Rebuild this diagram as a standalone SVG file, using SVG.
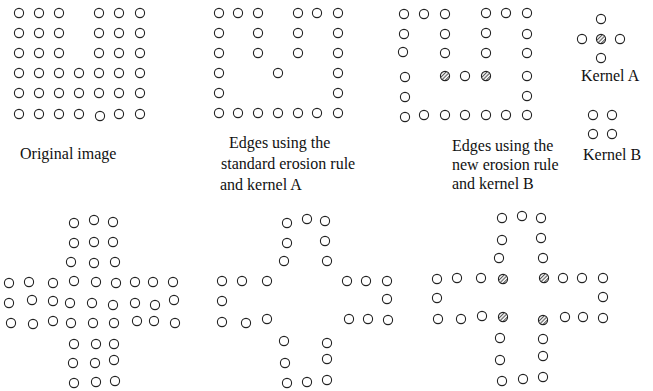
<svg xmlns="http://www.w3.org/2000/svg" xmlns:xlink="http://www.w3.org/1999/xlink" width="653" height="391" viewBox="0 0 653 391">
<style>
.c{fill:#fff;stroke:#222;stroke-width:1.1}
.h{fill:url(#hatch);stroke:#222;stroke-width:1.1}
.t{font-family:"Liberation Serif","Times New Roman",serif;font-size:16px;fill:#111}
</style>
<defs>
<pattern id="hatch" patternUnits="userSpaceOnUse" width="2.6" height="2.6" patternTransform="rotate(-45)">
<rect width="2.6" height="2.6" fill="#fff"/>
<line x1="0" y1="0.6" x2="2.6" y2="0.6" stroke="#333" stroke-width="0.9"/>
</pattern>
<circle id="c" r="4.6" class="c"/>
<circle id="hc" r="4.6" class="h"/>
</defs>
<rect width="653" height="391" fill="#fff"/>

<g id="original">
<use href="#c" x="19" y="13"/><use href="#c" x="39" y="13"/><use href="#c" x="59" y="13"/><use href="#c" x="99" y="13"/><use href="#c" x="119" y="13"/><use href="#c" x="140" y="13"/>
<use href="#c" x="19" y="33"/><use href="#c" x="39" y="33"/><use href="#c" x="59" y="33"/><use href="#c" x="99" y="33"/><use href="#c" x="119" y="33"/><use href="#c" x="140" y="33"/>
<use href="#c" x="19" y="53"/><use href="#c" x="39" y="53"/><use href="#c" x="59" y="53"/><use href="#c" x="99" y="53"/><use href="#c" x="119" y="53"/><use href="#c" x="140" y="53"/>
<use href="#c" x="19" y="73"/><use href="#c" x="39" y="73"/><use href="#c" x="59" y="73"/><use href="#c" x="79" y="73"/><use href="#c" x="99" y="73"/><use href="#c" x="119" y="73"/><use href="#c" x="140" y="73"/>
<use href="#c" x="19" y="93"/><use href="#c" x="39" y="93"/><use href="#c" x="59" y="93"/><use href="#c" x="79" y="93"/><use href="#c" x="99" y="93"/><use href="#c" x="119" y="93"/><use href="#c" x="140" y="93"/>
<use href="#c" x="19" y="114"/><use href="#c" x="39" y="114"/><use href="#c" x="59" y="114"/><use href="#c" x="79" y="114"/><use href="#c" x="100" y="116"/><use href="#c" x="119" y="114"/><use href="#c" x="140" y="114"/>
<text class="t" x="20" y="159">Original image</text>
</g>

<g id="standard-edges">
<use href="#c" x="219" y="13"/><use href="#c" x="238" y="13"/><use href="#c" x="258" y="13"/><use href="#c" x="298" y="13"/><use href="#c" x="317" y="13"/><use href="#c" x="338" y="13"/>
<use href="#c" x="219" y="33"/><use href="#c" x="258" y="33"/><use href="#c" x="298" y="33"/><use href="#c" x="338" y="33"/>
<use href="#c" x="219" y="53"/><use href="#c" x="258" y="53"/><use href="#c" x="298" y="53"/><use href="#c" x="338" y="53"/>
<use href="#c" x="219" y="73"/><use href="#c" x="278" y="73"/><use href="#c" x="338" y="73"/>
<use href="#c" x="219" y="93"/><use href="#c" x="338" y="93"/>
<use href="#c" x="219" y="113"/><use href="#c" x="238" y="113"/><use href="#c" x="258" y="113"/><use href="#c" x="278" y="113"/><use href="#c" x="298" y="113"/><use href="#c" x="317" y="113"/><use href="#c" x="338" y="113"/>
<text class="t" x="229" y="148">Edges using the</text>
<text class="t" x="221" y="169">standard erosion rule</text>
<text class="t" x="220" y="190">and kernel A</text>
</g>

<g id="new-edges">
<use href="#c" x="404" y="14"/><use href="#c" x="424" y="14"/><use href="#c" x="445" y="14"/><use href="#c" x="486" y="13"/><use href="#c" x="506" y="13"/><use href="#c" x="527" y="13"/>
<use href="#c" x="404" y="34"/><use href="#c" x="445" y="34"/><use href="#c" x="486" y="33"/><use href="#c" x="527" y="34"/>
<use href="#c" x="403" y="52"/><use href="#c" x="445" y="53"/><use href="#c" x="486" y="53"/><use href="#c" x="527" y="53"/>
<use href="#c" x="405" y="77"/><use href="#hc" x="445" y="76"/><use href="#c" x="465" y="76"/><use href="#hc" x="486" y="76"/><use href="#c" x="527" y="76"/>
<use href="#c" x="405" y="97"/><use href="#c" x="527" y="96"/>
<use href="#c" x="405" y="117"/><use href="#c" x="424" y="115"/><use href="#c" x="445" y="115"/><use href="#c" x="465" y="115"/><use href="#c" x="486" y="115"/><use href="#c" x="506" y="115"/><use href="#c" x="527" y="115"/>
<text class="t" x="452" y="151">Edges using the</text>
<text class="t" x="452" y="170">new erosion rule</text>
<text class="t" x="452" y="189">and kernel B</text>
</g>

<g id="kernel-a">
<use href="#c" x="601" y="19"/>
<use href="#c" x="582" y="39"/><use href="#hc" x="601" y="39"/><use href="#c" x="620" y="39"/>
<use href="#c" x="601" y="58"/>
<text class="t" x="581" y="81">Kernel A</text>
</g>

<g id="kernel-b">
<use href="#c" x="593" y="115"/><use href="#c" x="612" y="115"/>
<use href="#c" x="593" y="134"/><use href="#c" x="612" y="134"/>
<text class="t" x="583" y="160">Kernel B</text>
</g>

<g id="cross-original">
<use href="#c" x="74" y="223"/><use href="#c" x="94" y="220"/><use href="#c" x="113" y="222"/>
<use href="#c" x="74" y="243"/><use href="#c" x="94" y="242"/><use href="#c" x="113" y="242"/>
<use href="#c" x="71" y="262"/><use href="#c" x="94" y="263"/><use href="#c" x="115" y="262"/>
<use href="#c" x="9" y="283"/><use href="#c" x="29" y="282"/><use href="#c" x="53" y="283"/><use href="#c" x="74" y="281"/><use href="#c" x="96" y="282"/><use href="#c" x="116" y="283"/><use href="#c" x="135" y="282"/><use href="#c" x="153" y="282"/><use href="#c" x="173" y="282"/>
<use href="#c" x="9" y="303"/><use href="#c" x="32" y="300"/><use href="#c" x="53" y="301"/><use href="#c" x="70" y="303"/><use href="#c" x="92" y="303"/><use href="#c" x="113" y="305"/><use href="#c" x="135" y="303"/><use href="#c" x="155" y="305"/><use href="#c" x="174" y="300"/>
<use href="#c" x="11" y="323"/><use href="#c" x="33" y="324"/><use href="#c" x="53" y="321"/><use href="#c" x="71" y="323"/><use href="#c" x="93" y="323"/><use href="#c" x="114" y="323"/><use href="#c" x="137" y="321"/><use href="#c" x="154" y="321"/><use href="#c" x="175" y="323"/>
<use href="#c" x="74" y="344"/><use href="#c" x="96" y="344"/><use href="#c" x="114" y="344"/>
<use href="#c" x="73" y="363"/><use href="#c" x="95" y="363"/><use href="#c" x="114" y="360"/>
<use href="#c" x="74" y="383"/><use href="#c" x="96" y="382"/><use href="#c" x="115" y="381"/>
</g>

<g id="cross-standard">
<use href="#c" x="287" y="223"/><use href="#c" x="307" y="219"/><use href="#c" x="325" y="221"/>
<use href="#c" x="287" y="243"/><use href="#c" x="325" y="241"/>
<use href="#c" x="284" y="261"/><use href="#c" x="327" y="261"/>
<use href="#c" x="222" y="281"/><use href="#c" x="242" y="281"/><use href="#c" x="267" y="281"/><use href="#c" x="347" y="281"/><use href="#c" x="366" y="281"/><use href="#c" x="387" y="281"/>
<use href="#c" x="222" y="301"/><use href="#c" x="387" y="299"/>
<use href="#c" x="222" y="322"/><use href="#c" x="246" y="323"/><use href="#c" x="267" y="319"/><use href="#c" x="349" y="319"/><use href="#c" x="368" y="319"/><use href="#c" x="388" y="320"/>
<use href="#c" x="284" y="341"/><use href="#c" x="327" y="343"/>
<use href="#c" x="285" y="363"/><use href="#c" x="327" y="359"/>
<use href="#c" x="287" y="383"/><use href="#c" x="307" y="382"/><use href="#c" x="327" y="380"/>
</g>

<g id="cross-new">
<use href="#c" x="502" y="218"/><use href="#c" x="522" y="216"/><use href="#c" x="541" y="218"/>
<use href="#c" x="502" y="240"/><use href="#c" x="541" y="238"/>
<use href="#c" x="499" y="258"/><use href="#c" x="543" y="258"/>
<use href="#c" x="437" y="279"/><use href="#c" x="457" y="278"/><use href="#c" x="481" y="278"/><use href="#hc" x="503" y="279"/><use href="#hc" x="544" y="278"/><use href="#c" x="563" y="278"/><use href="#c" x="582" y="278"/><use href="#c" x="603" y="278"/>
<use href="#c" x="437" y="298"/><use href="#c" x="603" y="297"/>
<use href="#c" x="438" y="319"/><use href="#c" x="461" y="319"/><use href="#c" x="482" y="316"/><use href="#hc" x="503" y="317"/><use href="#hc" x="543" y="320"/><use href="#c" x="565" y="317"/><use href="#c" x="583" y="317"/><use href="#c" x="603" y="318"/>
<use href="#c" x="500" y="338"/><use href="#c" x="543" y="339"/>
<use href="#c" x="500" y="360"/><use href="#c" x="543" y="356"/>
<use href="#c" x="502" y="381"/><use href="#c" x="523" y="379"/><use href="#c" x="543" y="377"/>
</g>
</svg>
